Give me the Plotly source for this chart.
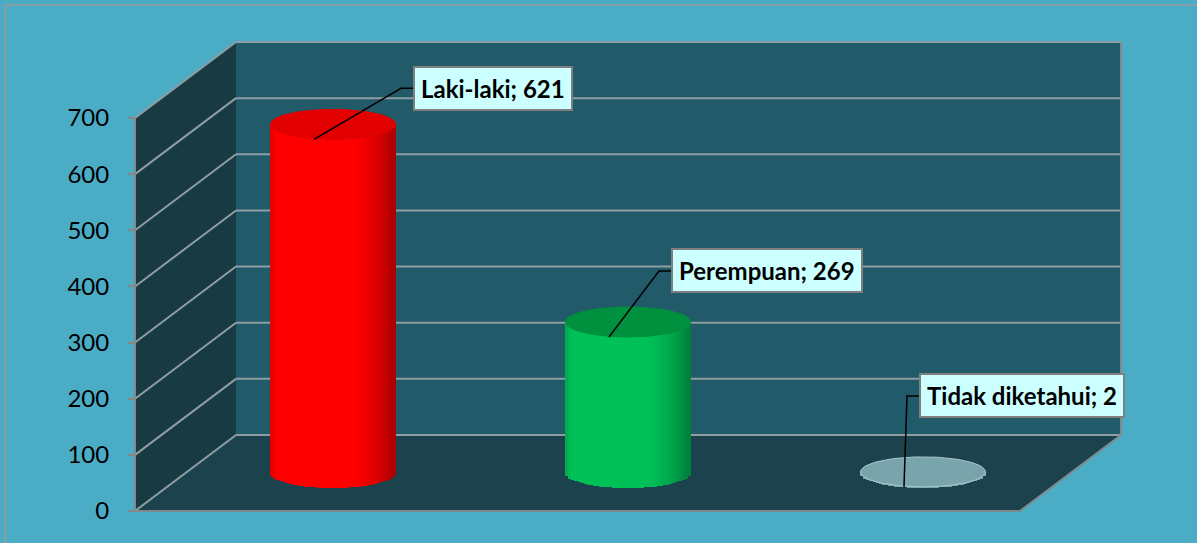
import numpy as np
import plotly.graph_objects as go

# ---- data ----
categories = ["Laki-laki", "Perempuan", "Tidak diketahui"]
values = [621, 269, 2]
tick_values = [0, 100, 200, 300, 400, 500, 600, 700]

# ---- styling ----
bright = [(255, 0, 0), (0, 192, 88), (118, 160, 168)]
top_colors = ["#E20000", "#00913F", "#79A4AC"]
top_lines = ["#E20000", "#00913F", "#A9C8CE"]
# leader elbow offsets in pixels (dx, dy-up) from bar top front point
leader_px = [(87, 51), (50, 66), (3, 91)]

W, H = 1197, 543
ML, MR, MT, MB = 125, 60, 34, 25
X0_PX, Y0_PX = 135, 511          # pixel of data origin (front-left-bottom)
PXX = 295.0                      # px per category unit
PXY = 393.0 / 700.0              # px per value unit
DX = 101.0 / PXX                 # depth shift (x)
DY = 76.0 / PXY                  # depth shift (y)
BW = 125.0 / PXX                 # cylinder width
RY = 15.0 / PXY                  # ellipse half height
plot_r = W - MR
x_lo, x_hi = -(X0_PX - ML) / PXX, (plot_r - X0_PX) / PXX
y_hi, y_lo = (Y0_PX - MT) / PXY, -((H - MB) - Y0_PX) / PXY
YMAX = tick_values[-1]
n = len(categories)

fig = go.Figure()

# ---- walls ----
shapes = []
grid_col = "#8E9EA3"
shapes.append(dict(type="path", xref="x", yref="y", layer="below",
                   path=f"M 0,0 L {DX},{DY} L {DX},{YMAX+DY} L 0,{YMAX} Z",
                   fillcolor="#183A43", line=dict(width=0)))
shapes.append(dict(type="path", xref="x", yref="y", layer="below",
                   path=f"M 0,0 L {n},0 L {n+DX},{DY} L {DX},{DY} Z",
                   fillcolor="#1C434D", line=dict(width=0)))
shapes.append(dict(type="rect", xref="x", yref="y", layer="below",
                   x0=DX, x1=n + DX, y0=DY, y1=YMAX + DY,
                   fillcolor="#215A69", line=dict(width=0)))
for v in tick_values:
    shapes.append(dict(type="line", xref="x", yref="y", layer="below",
                       x0=DX, x1=n + DX, y0=v + DY, y1=v + DY,
                       line=dict(color=grid_col, width=2)))
    shapes.append(dict(type="line", xref="x", yref="y", layer="below",
                       x0=0, x1=DX, y0=v, y1=v + DY,
                       line=dict(color=grid_col, width=2)))
edge = dict(color="#7F8A8E", width=2)
shapes.append(dict(type="line", xref="x", yref="y", layer="below",
                   x0=0, x1=n, y0=0, y1=0, line=edge))
shapes.append(dict(type="line", xref="x", yref="y", layer="below",
                   x0=n, x1=n + DX, y0=0, y1=DY, line=edge))
shapes.append(dict(type="line", xref="x", yref="y", layer="below",
                   x0=n + DX, x1=n + DX, y0=DY, y1=YMAX + DY, line=edge))
shapes.append(dict(type="line", xref="x", yref="y", layer="below",
                   x0=0, x1=0, y0=0, y1=YMAX, line=edge))

# outer border
pw, ph = plot_r - ML, (H - MB) - MT
shapes.append(dict(type="rect", xref="paper", yref="paper", layer="below",
                   x0=(5 - ML) / pw, x1=(W + 20 - ML) / pw,
                   y0=((H - MB) - (H + 20)) / ph, y1=((H - MB) - 5) / ph,
                   line=dict(color="#9A9A9A", width=1.5), fillcolor="rgba(0,0,0,0)"))

# ---- cylinders (sliced bars for shading) ----
xc = [i + 0.5 + DX / 2 for i in range(n)]
base0 = DY / 2
NS = 40
phi = -0.35
for k in range(NS):
    t = -1 + (2 * k + 1) / NS
    th = np.arcsin(t)
    lum = max(np.cos(th - phi), 0)
    f = min(1.0, 0.68 + 0.42 * lum)
    cols = []
    for i, c in enumerate(bright):
        if i == 2:
            cols.append(f"rgb({c[0]},{c[1]},{c[2]})")
        else:
            cols.append(f"rgb({int(c[0]*f)},{int(c[1]*f)},{int(c[2]*f)})")
    drop = RY * np.sqrt(max(0.0, 1 - t * t))
    fig.add_trace(go.Bar(
        x=[xc[i] + t * BW / 2 for i in range(n)],
        y=[values[i] + drop for i in range(n)],
        base=[base0 - drop] * n,
        width=BW / NS * 1.25,
        marker=dict(color=cols, line=dict(width=0)),
        hoverinfo="skip", showlegend=False))

# top ellipses
a = np.linspace(0, 2 * np.pi, 121)
for i in range(n):
    top = base0 + values[i]
    fig.add_trace(go.Scatter(
        x=xc[i] + BW / 2 * np.cos(a), y=top + RY * np.sin(a),
        mode="lines", fill="toself", fillcolor=top_colors[i],
        line=dict(color=top_lines[i], width=1),
        hoverinfo="skip", showlegend=False))

# leader lines + labels
annotations = []
for i in range(n):
    top = base0 + values[i]
    axp = xc[i] - 19 / PXX
    ayp = top - 15 / PXY
    ex = axp + leader_px[i][0] / PXX
    ey = ayp + leader_px[i][1] / PXY
    bx = ex + 12 / PXX
    fig.add_trace(go.Scatter(x=[axp, ex, bx], y=[ayp, ey, ey], mode="lines",
                             line=dict(color="black", width=1.5),
                             hoverinfo="skip", showlegend=False))
    annotations.append(dict(
        x=bx, y=ey, xref="x", yref="y", xanchor="left", yanchor="middle",
        text=f"<b>{categories[i]}; {values[i]}</b>", showarrow=False,
        font=dict(family="Lato", size=24, color="black"),
        bgcolor="#CCFFFF", bordercolor="#7F7F7F", borderwidth=2, borderpad=6))

fig.update_layout(
    width=W, height=H,
    margin=dict(l=ML, r=MR, t=MT, b=MB, autoexpand=False),
    paper_bgcolor="#4BACC6", plot_bgcolor="rgba(0,0,0,0)",
    barmode="overlay", bargap=0,
    shapes=shapes, annotations=annotations, showlegend=False,
    xaxis=dict(range=[x_lo, x_hi], visible=False, fixedrange=True),
    yaxis=dict(range=[y_lo, y_hi], anchor="free", position=(X0_PX - ML) / pw,
               tickvals=tick_values, ticks="outside", ticklen=7, tickwidth=2,
               tickcolor="#868686", showgrid=False, zeroline=False, showline=False,
               tickfont=dict(family="Lato", size=24, color="black"),
               ticklabelstandoff=14, fixedrange=True),
)

fig.write_html("out.html", config={"displayModeBar": False},
               post_script="document.body.style.margin='0';document.body.style.overflow='hidden';")
